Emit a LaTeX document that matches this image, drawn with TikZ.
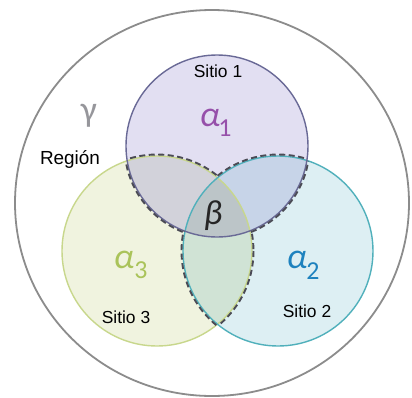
\documentclass[tikz,border=0pt]{standalone}
\usepackage{fontspec}
\setmainfont{Liberation Sans}
\newfontfamily\grk{Carlito}
\definecolor{cAfill}{RGB}{226,223,242}
\definecolor{cBfill}{RGB}{221,239,243}
\definecolor{cCfill}{RGB}{240,243,223}
\definecolor{lAC}{RGB}{210,210,218}
\definecolor{lAB}{RGB}{199,212,232}
\definecolor{lBC}{RGB}{208,227,213}
\definecolor{lABC}{RGB}{188,197,200}
\definecolor{cAline}{RGB}{105,105,150}
\definecolor{cBline}{RGB}{80,176,187}
\definecolor{cCline}{RGB}{200,215,140}
\definecolor{outerline}{RGB}{140,140,140}
\definecolor{dashcol}{RGB}{75,75,85}
\definecolor{alA}{RGB}{150,80,170}
\definecolor{alB}{RGB}{30,130,190}
\definecolor{alC}{RGB}{170,195,90}
\definecolor{gamcol}{RGB}{150,150,155}
\begin{document}
\begin{tikzpicture}[x=1bp,y=-1bp,
  lab/.style={inner sep=0pt,anchor=base,font=\fontsize{17.5}{20}\selectfont},
  grkbig/.style={inner sep=0pt,anchor=base,font=\grk\itshape\fontsize{36}{40}\selectfont},
  grksub/.style={inner sep=0pt,anchor=base,font=\grk\fontsize{26}{30}\selectfont},
  dashline/.style={draw=dashcol,line width=1.9bp,dash pattern=on 6bp off 3.5bp}]
\useasboundingbox (0,0) rectangle (412,398);
\fill[white] (0,0) rectangle (412,398);
\coordinate (O) at (212,203);
\coordinate (A) at (217,146);
\coordinate (B) at (278,251);
\coordinate (C) at (157,251);
\def\ra{91}\def\rb{95}\def\rc{95}
% outer region
\draw[outerline,line width=1.8bp] (O) ellipse[x radius=197,y radius=193];
% fills
\fill[cAfill] (A) circle[radius=\ra];
\fill[cBfill] (B) circle[radius=\rb];
\fill[cCfill] (C) circle[radius=\rc];
\begin{scope}\clip (A) circle[radius=\ra]; \fill[lAC] (C) circle[radius=\rc];\end{scope}
\begin{scope}\clip (A) circle[radius=\ra]; \fill[lAB] (B) circle[radius=\rb];\end{scope}
\begin{scope}\clip (B) circle[radius=\rb]; \fill[lBC] (C) circle[radius=\rc];\end{scope}
\begin{scope}\clip (A) circle[radius=\ra]; \clip (B) circle[radius=\rb]; \fill[lABC] (C) circle[radius=\rc];\end{scope}
% outlines
\draw[cCline,line width=1.4bp] (C) circle[radius=\rc];
\draw[cBline,line width=1.4bp] (B) circle[radius=\rb];
\draw[cAline,line width=1.4bp] (A) circle[radius=\ra];
% dashed lens outlines
\begin{scope}[even odd rule]\clip (A) circle[radius=\ra]; \clip (B) circle[radius=\rb] (-20,-20) rectangle (440,420);
  \draw[dashline] (C) circle[radius=\rc+1.5];\end{scope}
\begin{scope}[even odd rule]\clip (C) circle[radius=\rc]; \clip (B) circle[radius=\rb] (-20,-20) rectangle (440,420);
  \draw[dashline] (A) circle[radius=\ra+1.5];\end{scope}
\begin{scope}[even odd rule]\clip (A) circle[radius=\ra]; \clip (C) circle[radius=\rc] (-20,-20) rectangle (440,420);
  \draw[dashline] (B) circle[radius=\rb+1.5];\end{scope}
\begin{scope}[even odd rule]\clip (B) circle[radius=\rb]; \clip (C) circle[radius=\rc] (-20,-20) rectangle (440,420);
  \draw[dashline] (A) circle[radius=\ra+1.5];\end{scope}
\begin{scope}[even odd rule]\clip (B) circle[radius=\rb]; \clip (A) circle[radius=\ra] (-20,-20) rectangle (440,420);
  \draw[dashline] (C) circle[radius=\rc+1.5];\end{scope}
\begin{scope}[even odd rule]\clip (C) circle[radius=\rc]; \clip (A) circle[radius=\ra] (-20,-20) rectangle (440,420);
  \draw[dashline] (B) circle[radius=\rb+1.5];\end{scope}
% labels
\node[lab] (s1) at (218,77) {Sitio 1};
\node[lab] (s2) at (307,317) {Sitio 2};
\node[lab] (s3) at (126,323) {Sitio 3};
\node[lab,font=\fontsize{19}{22}\selectfont] (reg) at (70,164) {Región};
\node[grkbig,text=alA] (a1) at (210,126) {α};
\node[grksub,text=alA] (a1s) at (225,136) {1};
\node[grkbig,text=alC] (a3) at (124,268) {α};
\node[grksub,text=alC] (a3s) at (141,278) {3};
\node[grkbig,text=alB] (a2) at (297,268) {α};
\node[grksub,text=alB] (a2s) at (313,279) {2};
\node[grkbig,text=gamcol,font=\grk\fontsize{36}{40}\selectfont] (g) at (89,121) {γ};
\node[grkbig,text=black!85,font=\grk\itshape\fontsize{35}{38}\selectfont] (b) at (213,224) {β};
\end{tikzpicture}
\end{document}
